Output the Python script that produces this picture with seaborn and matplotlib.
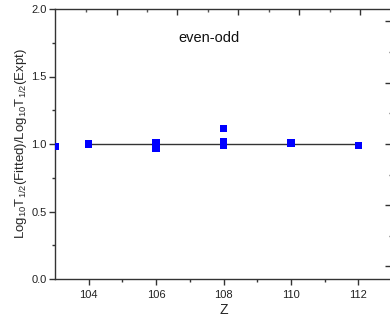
import matplotlib
matplotlib.use("Agg")
import matplotlib.pyplot as plt
import seaborn as sns
import pandas as pd
import numpy as np

# Data
Z = [103, 104, 106, 106, 106, 108, 108, 108, 110, 110, 112]
ratio = [0.98, 1.00, 1.01, 0.99, 0.965, 1.116, 1.02, 0.99, 1.01, 1.005, 0.99]
line_z = [104, 112]
line_y = [1.0, 1.0]
x_ticks = [104, 106, 108, 110, 112]
y_ticks = [0.0, 0.5, 1.0, 1.5, 2.0]
label_text = "even-odd"

df = pd.DataFrame({"Z": Z, "ratio": ratio})

sns.set_style("ticks")
plt.rcParams['font.family'] = ['Liberation Sans', 'DejaVu Sans']
plt.rcParams['mathtext.fontset'] = 'custom'
plt.rcParams['mathtext.rm'] = 'Liberation Sans'
plt.rcParams['mathtext.it'] = 'Liberation Sans'

fig = plt.figure(figsize=(3.9, 3.22), dpi=100)
ax = fig.add_axes([55/390, 43/322, 337/390, 270/322])

ax.plot(line_z, line_y, color='#333333', lw=1.0, zorder=1)
sns.scatterplot(data=df, x="Z", y="ratio", ax=ax, marker='s', s=28,
                color='#0000ff', edgecolor='none', linewidth=0, zorder=3)

ax.set_xlim(103, 113)
ax.set_ylim(0, 2.0)
ax.set_xticks(x_ticks)
ax.set_xticks([105, 107, 109, 111], minor=True)
ax.set_yticks(y_ticks)
ax.set_yticks([0.25, 0.75, 1.25, 1.75], minor=True)
ax.set_yticklabels([f"{v:.1f}" for v in y_ticks])

for s in ax.spines.values():
    s.set_color('#333333')
    s.set_linewidth(1.0)
ax.spines['right'].set_visible(False)

ax.tick_params(axis='both', which='major', direction='out', length=4, width=1,
               color='#333333', labelsize=8, labelcolor='#222222', pad=2)
ax.tick_params(axis='both', which='minor', direction='out', length=2.5, width=1,
               color='#333333')
ax.tick_params(axis='x', which='major', pad=4)

# top ticks (offset scale as in reference)
top = ax.secondary_xaxis('top')
top.set_xticks([104.84, 106.62, 108.43, 110.24, 112.05])
top.set_xticks([103.92, 105.73, 107.54, 109.35, 111.16], minor=True)
top.set_xticklabels([])
top.tick_params(which='major', direction='in', length=4, width=1, color='#333333',
                labeltop=False)
top.tick_params(which='minor', direction='in', length=2, width=1, color='#555555')
top.spines['top'].set_visible(False)

# right ticks (offset scale as in reference)
right = ax.secondary_yaxis('right')
right.set_yticks([0.096, 0.548, 1.0, 1.452, 1.911])
right.set_yticks([0.322, 0.774, 1.226, 1.681], minor=True)
right.set_yticklabels([])
right.tick_params(which='major', direction='in', length=5, width=1, color='#333333',
                  labelright=False)
right.tick_params(which='minor', direction='in', length=2.5, width=1, color='#555555')
right.spines['right'].set_visible(False)

ax.text(107.57, 1.785, label_text, ha='center', va='center', fontsize=10.5,
        color='#111111')

ax.set_xlabel("Z", fontsize=10, labelpad=2)
ax.set_ylabel(r"Log$_{\mathregular{10}}$T$_{\mathregular{1/2}}$(Fitted)/Log$_{\mathregular{10}}$T$_{\mathregular{1/2}}$(Expt)",
              fontsize=9.5, labelpad=2)

fig.savefig("out.png", dpi=100)
